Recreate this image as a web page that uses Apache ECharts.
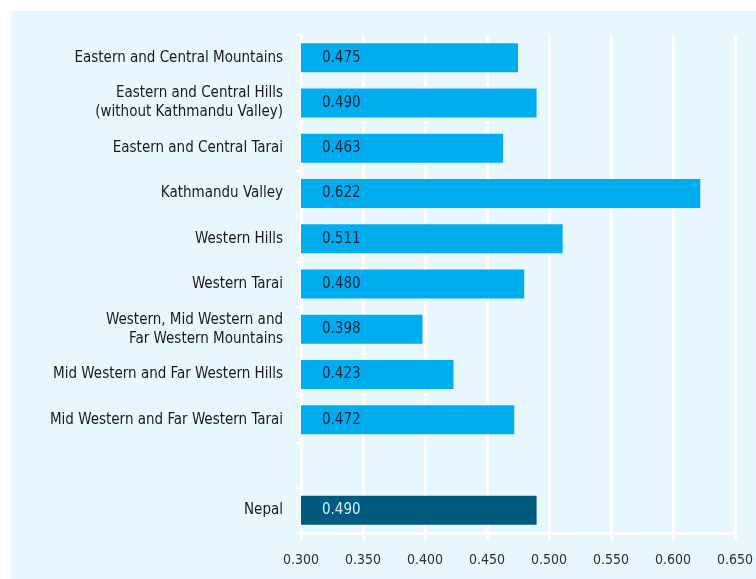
<!DOCTYPE html>
<html>
<head>
<meta charset="utf-8">
<script src="https://cdn.jsdelivr.net/npm/echarts@6/dist/echarts.min.js"></script>
<style>
html,body{margin:0;padding:0;background:#ffffff;}
#chart{width:756px;height:579px;}
</style>
</head>
<body>
<div id="chart"></div>
<script>
const categories = [
  "Eastern and Central Mountains",
  "Eastern and Central Hills\n(without Kathmandu Valley)",
  "Eastern and Central Tarai",
  "Kathmandu Valley",
  "Western Hills",
  "Western Tarai",
  "Western, Mid Western and\nFar Western Mountains",
  "Mid Western and Far Western Hills",
  "Mid Western and Far Western Tarai",
  "",
  "Nepal"
];
const values = [0.475, 0.490, 0.463, 0.622, 0.511, 0.480, 0.398, 0.423, 0.472, null, 0.490];
const highlightCategory = "Nepal";
const xTicks = [0.300, 0.350, 0.400, 0.450, 0.500, 0.550, 0.600, 0.650];

const FONT = "'DejaVu Sans Condensed', 'Liberation Sans Narrow', 'Roboto', sans-serif";
const chart = echarts.init(document.getElementById('chart'), null, {renderer: 'canvas'});

const data = values.map((v, i) => {
  if (v === null) return {value: null};
  const hl = categories[i] === highlightCategory;
  return {
    value: v,
    itemStyle: {color: hl ? '#005b7f' : '#00aeef'},
    label: {color: hl ? '#d6ecf5' : '#10243a'}
  };
});

chart.setOption({
  animation: false,
  backgroundColor: '#ffffff',
  graphic: [{
    type: 'rect',
    left: 11, top: 11,
    shape: {width: 745, height: 568},
    style: {fill: '#e8f6fd'},
    z: -10,
    silent: true
  }],
  grid: {left: 301, right: 21, top: 35, bottom: 46, containLabel: false},
  xAxis: {
    type: 'value',
    min: xTicks[0],
    max: xTicks[xTicks.length - 1],
    interval: 0.05,
    axisLine: {show: true, lineStyle: {color: '#ffffff', width: 3}},
    axisTick: {show: true, length: 7, lineStyle: {color: '#ffffff', width: 3}},
    splitLine: {show: true, lineStyle: {color: '#ffffff', width: 3}},
    axisLabel: {
      margin: 20,
      fontFamily: FONT,
      fontSize: 14,
      color: '#2a2f36',
      formatter: v => v.toFixed(3)
    }
  },
  yAxis: {
    type: 'category',
    data: categories,
    inverse: true,
    axisLine: {show: true, lineStyle: {color: '#ffffff', width: 2}},
    axisTick: {show: true, length: 6, lineStyle: {color: '#ffffff', width: 2}},
    splitLine: {show: false},
    axisLabel: {
      margin: 18,
      fontFamily: FONT,
      fontSize: 15,
      lineHeight: 19,
      color: '#1a1a1a',
      align: 'right'
    }
  },
  series: [{
    type: 'bar',
    data: data,
    barWidth: 29,
    label: {
      show: true,
      position: 'insideLeft',
      distance: 21,
      fontFamily: FONT,
      fontSize: 15,
      formatter: p => p.value == null ? '' : p.value.toFixed(3)
    }
  }]
});
</script>
</body>
</html>
